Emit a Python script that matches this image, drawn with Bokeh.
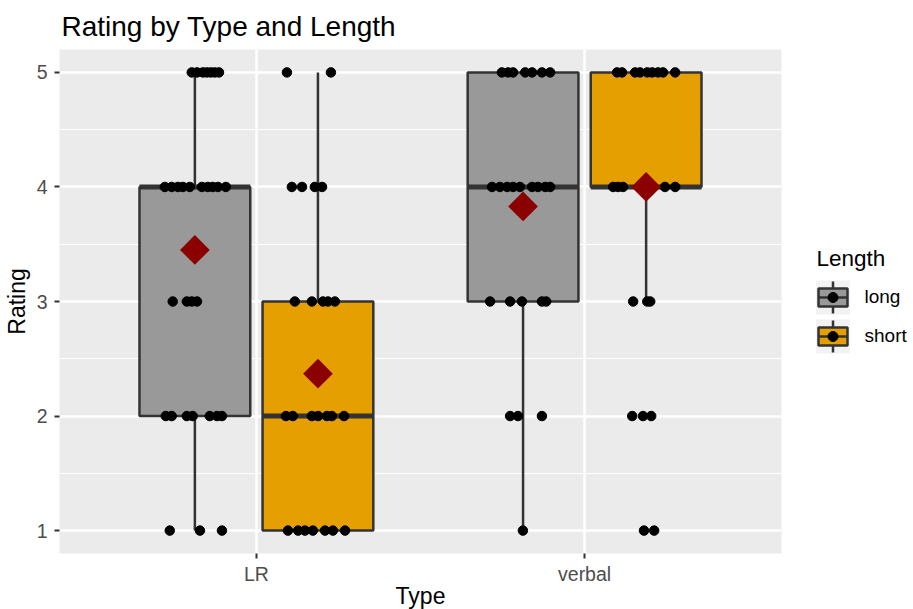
import numpy as np
from bokeh.plotting import figure
from bokeh.models import Range1d, FixedTicker, ColumnDataSource
from bokeh.layouts import row
from bokeh.embed import file_html
from bokeh.resources import INLINE
from bokeh.core.properties import value

# ---------------- data ----------------
types = ["LR", "verbal"]
lengths = ["long", "short"]
length_colors = ["#999999", "#E69F00"]

box_type = ["LR", "LR", "verbal", "verbal"]
box_length = ["long", "short", "long", "short"]
q1 = [2, 1, 3, 4]
median = [4, 2, 4, 4]
q3 = [4, 3, 5, 5]
whisk_lo = [1, 1, 1, 3]
whisk_hi = [5, 5, 5, 5]
mean_rating = [3.45, 2.37, 3.83, 4.0]

# jittered observations: rating and horizontal jitter offset from the Type position
lr_long_rating = [5, 5, 5, 5, 5, 5, 5,
                  4, 4, 4, 4, 4, 4, 4, 4, 4, 4,
                  3, 3, 3, 3,
                  2, 2, 2, 2, 2, 2, 2,
                  1, 1, 1]
lr_long_jit = [-0.197, -0.181, -0.163, -0.151, -0.139, -0.127, -0.114,
               -0.279, -0.258, -0.239, -0.224, -0.203, -0.166, -0.148, -0.133, -0.117, -0.093,
               -0.255, -0.212, -0.197, -0.181,
               -0.276, -0.258, -0.212, -0.194, -0.142, -0.120, -0.105,
               -0.264, -0.172, -0.105]
lr_short_rating = [5, 5,
                   4, 4, 4, 4,
                   3, 3, 3, 3, 3,
                   2, 2, 2, 2, 2, 2, 2,
                   1, 1, 1, 1, 1, 1, 1]
lr_short_jit = [0.093, 0.227,
                0.108, 0.139, 0.178, 0.200,
                0.117, 0.169, 0.203, 0.218, 0.239,
                0.090, 0.111, 0.169, 0.188, 0.215, 0.230, 0.267,
                0.096, 0.127, 0.148, 0.172, 0.209, 0.233, 0.270]
verbal_long_rating = [5, 5, 5, 5, 5, 5, 5,
                      4, 4, 4, 4, 4, 4, 4, 4, 4,
                      3, 3, 3, 3, 3,
                      2, 2, 2,
                      1]
verbal_long_jit = [-0.252, -0.233, -0.218, -0.181, -0.160, -0.130, -0.105,
                   -0.282, -0.258, -0.236, -0.218, -0.197, -0.160, -0.142, -0.120, -0.105,
                   -0.288, -0.227, -0.191, -0.130, -0.117,
                   -0.227, -0.203, -0.130,
                   -0.188]
verbal_short_rating = [5, 5, 5, 5, 5, 5, 5, 5, 5,
                       4, 4, 4, 4, 4, 4, 4,
                       3, 3, 3,
                       2, 2, 2,
                       1, 1]
verbal_short_jit = [0.099, 0.114, 0.154, 0.169, 0.191, 0.206, 0.224, 0.239, 0.276,
                    0.087, 0.102, 0.117, 0.169, 0.200, 0.245, 0.276,
                    0.148, 0.191, 0.200,
                    0.145, 0.178, 0.203,
                    0.181, 0.212]

y_ticks = [1, 2, 3, 4, 5]

# ---------------- layout helpers ----------------
FONT = "Liberation Sans"
DODGE = 0.1875
BOX_W = 0.3375
FRAME_W, FRAME_H = 722, 504
type_pos = {t: i + 1 for i, t in enumerate(types)}
len_off = {"long": -DODGE, "short": DODGE}
len_col = dict(zip(lengths, length_colors))

bx = [type_pos[t] + len_off[l] for t, l in zip(box_type, box_length)]
boxes = ColumnDataSource(dict(
    x=bx, left=[v - BOX_W / 2 for v in bx], right=[v + BOX_W / 2 for v in bx],
    q1=q1, q3=q3, med=median, lo=whisk_lo, hi=whisk_hi, mean=mean_rating,
    fill=[len_col[l] for l in box_length]))

p = figure(frame_width=FRAME_W, frame_height=FRAME_H,
           x_range=Range1d(0.4, 2.6), y_range=Range1d(0.8, 5.2),
           toolbar_location=None, output_backend="svg",
           min_border_left=55, min_border_right=18, min_border_top=49, min_border_bottom=54)
p.background_fill_color = "#EBEBEB"
p.border_fill_color = "white"
p.outline_line_color = None

p.title.text = "Rating by Type and Length"
p.title.text_font = FONT
p.title.text_font_size = "28px"
p.title.text_font_style = "normal"
p.title.text_color = "black"
p.title.offset = 2
p.title.standoff = 16

p.xaxis.ticker = FixedTicker(ticks=[1, 2])
p.xaxis.major_label_overrides = {1: "LR", 2: "verbal"}
p.yaxis.ticker = FixedTicker(ticks=y_ticks, minor_ticks=[1.5, 2.5, 3.5, 4.5])
p.xaxis.axis_label = "Type"
p.yaxis.axis_label = "Rating"
for ax in (p.xaxis, p.yaxis):
    ax.axis_line_color = None
    ax.major_tick_line_color = "#333333"
    ax.major_tick_line_width = 2
    ax.major_tick_in = 0
    ax.major_tick_out = 5
    ax.minor_tick_line_color = None
    ax.major_label_text_font = FONT
    ax.major_label_text_font_size = "19.5px"
    ax.major_label_text_color = "#4D4D4D"
    ax.axis_label_text_font = FONT
    ax.axis_label_text_font_size = "23px"
    ax.axis_label_text_font_style = "normal"
    ax.axis_label_text_color = "black"
p.xaxis.major_label_standoff = 4
p.xaxis.axis_label_standoff = -5
p.yaxis.major_label_standoff = 7
p.yaxis.axis_label_standoff = 4

p.xgrid.grid_line_color = "white"
p.xgrid.grid_line_width = 2.5
p.ygrid.grid_line_color = "white"
p.ygrid.grid_line_width = 2.5
p.ygrid.minor_grid_line_color = "white"
p.ygrid.minor_grid_line_width = 1.2

EDGE = "#333333"
p.segment(x0="x", y0="lo", x1="x", y1="q1", source=boxes, line_color=EDGE, line_width=2.5)
p.segment(x0="x", y0="q3", x1="x", y1="hi", source=boxes, line_color=EDGE, line_width=2.5)
p.quad(left="left", right="right", bottom="q1", top="q3", source=boxes,
       fill_color="fill", line_color=EDGE, line_width=2.5)
p.segment(x0="left", y0="med", x1="right", y1="med", source=boxes, line_color=EDGE, line_width=5)

groups = [("LR", "long", lr_long_rating, lr_long_jit),
          ("LR", "short", lr_short_rating, lr_short_jit),
          ("verbal", "long", verbal_long_rating, verbal_long_jit),
          ("verbal", "short", verbal_short_rating, verbal_short_jit)]
for t, l, r, j in groups:
    p.scatter(x=[type_pos[t] + v for v in j], y=r, size=9.5, color="black")

p.scatter(x="x", y="mean", source=boxes, marker="square", angle=np.pi / 4,
          size=21, fill_color="#8B0000", line_color=None)

# ---------------- legend panel (pixels from the plot frame's top, y downward) ----------------
LW = 110
leg = figure(frame_width=LW, frame_height=FRAME_H, x_range=Range1d(0, LW), y_range=Range1d(FRAME_H, 0),
             x_axis_type=None, y_axis_type=None, toolbar_location=None,
             output_backend="svg", min_border_left=0, min_border_right=0,
             min_border_top=0, min_border_bottom=0)
leg.title = None
leg.outline_line_color = None
leg.background_fill_color = "white"
leg.border_fill_color = "white"

leg.text(x=[17], y=[209], text=["Length"], text_font=value(FONT), text_font_size="22.5px",
         text_baseline="alphabetic", text_color="black")
kx = 33.5
ky = [248 + 39 * i for i in range(len(lengths))]
leg.quad(left=[kx - 17] * 2, right=[kx + 17] * 2, bottom=[y - 17 for y in ky], top=[y + 17 for y in ky],
         fill_color="#F2F2F2", line_color=None)
leg.segment(x0=[kx] * 2, y0=[y - 16 for y in ky], x1=[kx] * 2, y1=[y + 16 for y in ky],
            line_color=EDGE, line_width=2.5)
leg.quad(left=[kx - 14.5] * 2, right=[kx + 14.5] * 2, bottom=[y - 9 for y in ky], top=[y + 9 for y in ky],
         fill_color=length_colors, line_color=EDGE, line_width=2.5)
leg.segment(x0=[kx - 14.5] * 2, y0=ky, x1=[kx + 14.5] * 2, y1=ky, line_color=EDGE, line_width=2.5)
leg.scatter(x=[kx] * 2, y=ky, size=10, color="black")
leg.text(x=[65] * 2, y=[y - 1 for y in ky], text=lengths, text_font=value(FONT), text_font_size="19px",
         text_baseline="alphabetic", text_color="black")

layout = row(p, leg)
open("out.html", "w").write(file_html(layout, INLINE))
